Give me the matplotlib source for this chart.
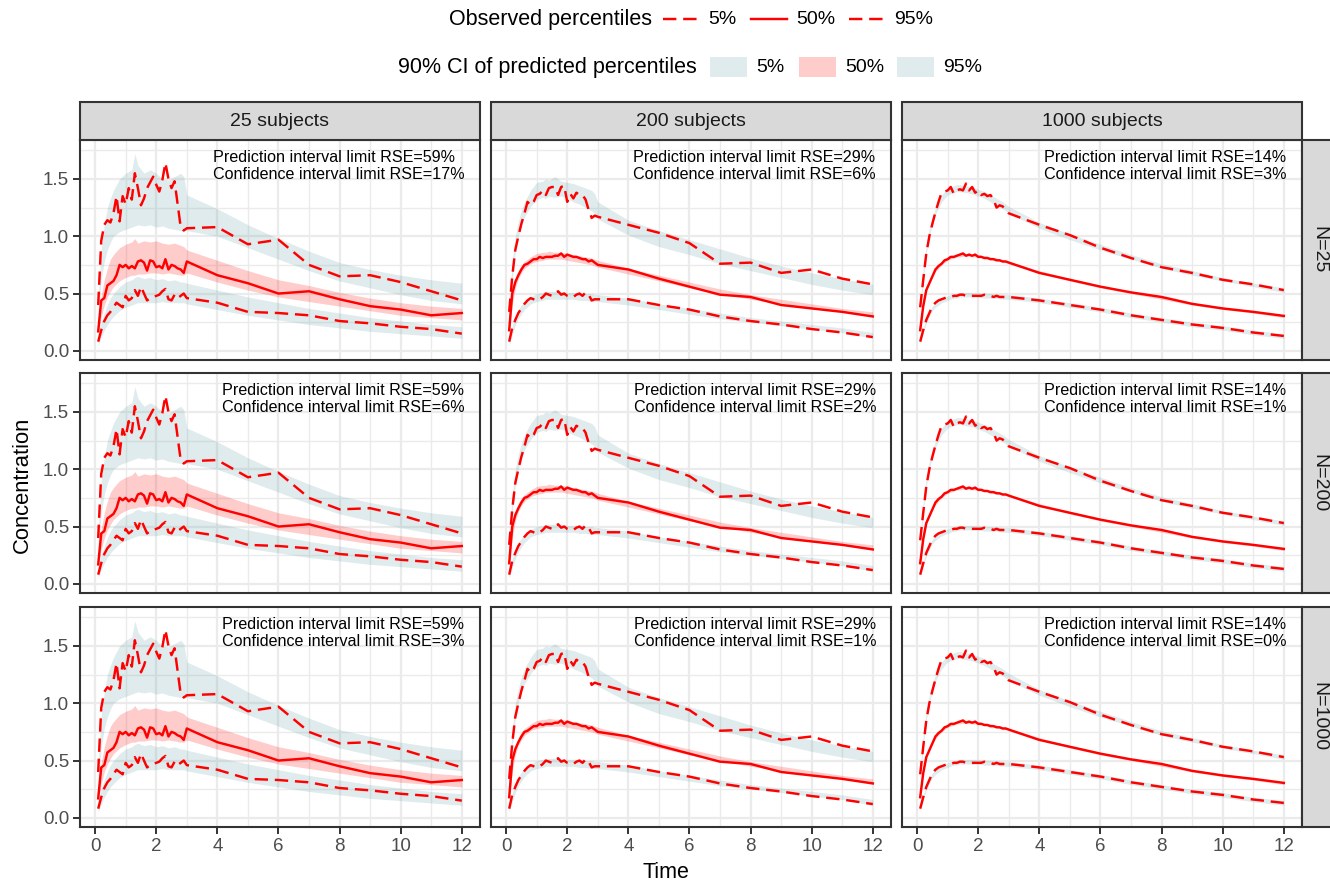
import matplotlib
matplotlib.use("Agg")
import matplotlib.pyplot as plt
from matplotlib.lines import Line2D
from matplotlib.patches import Rectangle

plt.rcParams['font.family'] = ['Liberation Sans', 'DejaVu Sans']

# ---------------- data ----------------
time_obs = [0.1, 0.2, 0.3, 0.4, 0.5, 0.6, 0.7, 0.8, 0.9, 1.0,
            1.1, 1.2, 1.3, 1.4, 1.5, 1.6, 1.7, 1.8, 1.9, 2.0,
            2.1, 2.2, 2.3, 2.4, 2.5, 2.6, 2.7, 2.8, 2.9, 3.0,
            4, 5, 6, 7, 8, 9, 10, 11, 12]

# observed percentiles, 25 subjects
obs25_p05 = [0.08, 0.18, 0.26, 0.31, 0.34, 0.38, 0.42, 0.40, 0.38, 0.48,
             0.44, 0.46, 0.53, 0.48, 0.56, 0.50, 0.44, 0.46, 0.47, 0.48,
             0.49, 0.52, 0.54, 0.45, 0.44, 0.49, 0.46, 0.48, 0.50, 0.46,
             0.42, 0.34, 0.33, 0.31, 0.26, 0.24, 0.21, 0.19, 0.15]
obs25_p50 = [0.17, 0.44, 0.46, 0.57, 0.59, 0.61, 0.66, 0.75, 0.73, 0.75,
             0.72, 0.74, 0.72, 0.78, 0.79, 0.77, 0.70, 0.79, 0.78, 0.73,
             0.74, 0.72, 0.80, 0.71, 0.75, 0.74, 0.72, 0.71, 0.68, 0.78,
             0.66, 0.59, 0.50, 0.52, 0.45, 0.39, 0.36, 0.31, 0.33]
obs25_p95 = [0.40, 0.96, 1.10, 1.14, 1.12, 1.20, 1.35, 1.13, 1.35, 1.28,
             1.42, 1.32, 1.55, 1.42, 1.27, 1.33, 1.42, 1.47, 1.52, 1.45,
             1.39, 1.49, 1.64, 1.50, 1.42, 1.48, 1.28, 1.08, 1.05, 1.07,
             1.08, 0.93, 0.97, 0.75, 0.65, 0.66, 0.60, 0.52, 0.44]

# observed percentiles, 200 subjects
obs200_p05 = [0.08, 0.20, 0.27, 0.33, 0.37, 0.41, 0.44, 0.46, 0.45, 0.44,
              0.45, 0.47, 0.50, 0.49, 0.48, 0.50, 0.52, 0.49, 0.50, 0.48,
              0.47, 0.47, 0.49, 0.50, 0.48, 0.51, 0.49, 0.44, 0.45, 0.45,
              0.45, 0.40, 0.36, 0.30, 0.26, 0.23, 0.19, 0.16, 0.12]
obs200_p50 = [0.18, 0.50, 0.60, 0.66, 0.71, 0.75, 0.76, 0.78, 0.80, 0.80,
              0.82, 0.81, 0.82, 0.82, 0.82, 0.83, 0.83, 0.85, 0.82, 0.84,
              0.83, 0.82, 0.82, 0.81, 0.80, 0.80, 0.78, 0.79, 0.77, 0.75,
              0.71, 0.63, 0.56, 0.49, 0.47, 0.40, 0.37, 0.34, 0.30]
obs200_p95 = [0.34, 0.65, 0.88, 1.00, 1.11, 1.20, 1.30, 1.27, 1.30, 1.36,
              1.37, 1.40, 1.36, 1.42, 1.43, 1.43, 1.36, 1.43, 1.44, 1.30,
              1.37, 1.33, 1.38, 1.36, 1.36, 1.32, 1.23, 1.16, 1.18, 1.17,
              1.10, 1.03, 0.94, 0.76, 0.77, 0.68, 0.71, 0.63, 0.58]

# observed percentiles, 1000 subjects
obs1000_p05 = [0.08, 0.18, 0.27, 0.33, 0.39, 0.42, 0.44, 0.45, 0.46, 0.47,
               0.47, 0.48, 0.48, 0.49, 0.49, 0.48, 0.48, 0.48, 0.48, 0.48,
               0.48, 0.49, 0.48, 0.48, 0.47, 0.48, 0.47, 0.47, 0.47, 0.47,
               0.44, 0.40, 0.36, 0.31, 0.27, 0.23, 0.20, 0.16, 0.13]
obs1000_p50 = [0.18, 0.39, 0.53, 0.59, 0.65, 0.71, 0.74, 0.76, 0.79, 0.80,
               0.82, 0.82, 0.83, 0.84, 0.85, 0.83, 0.84, 0.83, 0.84, 0.82,
               0.82, 0.81, 0.81, 0.80, 0.80, 0.79, 0.79, 0.78, 0.78, 0.77,
               0.68, 0.62, 0.56, 0.51, 0.47, 0.41, 0.37, 0.34, 0.305]
obs1000_p95 = [0.38, 0.62, 0.85, 1.00, 1.11, 1.21, 1.30, 1.38, 1.39, 1.40,
               1.43, 1.37, 1.40, 1.41, 1.40, 1.46, 1.40, 1.43, 1.38, 1.40,
               1.36, 1.37, 1.35, 1.36, 1.32, 1.25, 1.27, 1.26, 1.23, 1.20,
               1.10, 1.01, 0.90, 0.81, 0.73, 0.68, 0.62, 0.58, 0.53]

time_band = [0.1, 0.2, 0.3, 0.4, 0.5, 0.6, 0.8, 1.0, 1.2, 1.3, 1.4, 1.6, 1.8,
             2.0, 2.2, 2.4, 2.6, 2.8, 2.9, 3.0, 4, 5, 6, 7, 8, 9, 10, 11, 12]

# 90% CI of predicted percentiles, 25 subjects
ci25_p95_lo = [0.28, 0.62, 0.78, 0.88, 0.95, 1.00, 1.04, 1.06, 1.08, 1.09, 1.10, 1.09, 1.10,
               1.08, 1.09, 1.07, 1.06, 1.05, 1.05, 1.05, 1.00, 0.90, 0.80, 0.70, 0.61, 0.55, 0.49, 0.44, 0.41]
ci25_p95_hi = [0.45, 0.90, 1.10, 1.25, 1.33, 1.40, 1.50, 1.55, 1.58, 1.72, 1.62, 1.55, 1.58,
               1.55, 1.50, 1.49, 1.52, 1.55, 1.52, 1.36, 1.24, 1.10, 0.98, 0.87, 0.77, 0.71, 0.66, 0.62, 0.59]
ci25_p50_lo = [0.14, 0.30, 0.40, 0.47, 0.52, 0.56, 0.61, 0.64, 0.66, 0.66, 0.67, 0.67, 0.68,
               0.68, 0.67, 0.68, 0.67, 0.66, 0.66, 0.68, 0.60, 0.53, 0.47, 0.43, 0.39, 0.35, 0.31, 0.29, 0.27]
ci25_p50_hi = [0.24, 0.48, 0.62, 0.72, 0.80, 0.84, 0.90, 0.93, 0.95, 0.98, 0.94, 0.96, 0.95,
               0.96, 0.94, 0.93, 0.94, 0.92, 0.91, 0.88, 0.79, 0.70, 0.62, 0.57, 0.51, 0.46, 0.42, 0.39, 0.37]
ci25_p05_lo = [0.05, 0.12, 0.18, 0.23, 0.27, 0.30, 0.35, 0.38, 0.40, 0.41, 0.42, 0.42, 0.42,
               0.42, 0.43, 0.42, 0.42, 0.42, 0.42, 0.41, 0.36, 0.31, 0.27, 0.23, 0.20, 0.17, 0.15, 0.13, 0.11]
ci25_p05_hi = [0.14, 0.25, 0.33, 0.40, 0.46, 0.50, 0.56, 0.60, 0.62, 0.64, 0.65, 0.63, 0.64,
               0.62, 0.63, 0.61, 0.62, 0.60, 0.60, 0.59, 0.53, 0.47, 0.42, 0.37, 0.33, 0.29, 0.26, 0.23, 0.21]

# 90% CI of predicted percentiles, 200 subjects
ci200_p95_lo = [0.28, 0.62, 0.86, 1.00, 1.10, 1.17, 1.26, 1.32, 1.34, 1.33, 1.35, 1.34, 1.35,
                1.33, 1.30, 1.28, 1.25, 1.22, 1.20, 1.15, 1.01, 0.91, 0.84, 0.76, 0.70, 0.64, 0.58, 0.53, 0.49]
ci200_p95_hi = [0.40, 0.78, 1.00, 1.13, 1.23, 1.30, 1.40, 1.47, 1.48, 1.50, 1.49, 1.52, 1.48,
                1.47, 1.46, 1.44, 1.42, 1.40, 1.37, 1.30, 1.14, 1.05, 0.97, 0.89, 0.81, 0.74, 0.68, 0.63, 0.58]
ci200_p50_lo = [0.15, 0.40, 0.55, 0.63, 0.68, 0.72, 0.76, 0.78, 0.79, 0.80, 0.80, 0.80, 0.80,
                0.79, 0.78, 0.77, 0.76, 0.75, 0.74, 0.73, 0.67, 0.61, 0.55, 0.50, 0.45, 0.41, 0.37, 0.34, 0.30]
ci200_p50_hi = [0.21, 0.50, 0.63, 0.70, 0.75, 0.78, 0.82, 0.85, 0.86, 0.86, 0.87, 0.86, 0.86,
                0.85, 0.84, 0.83, 0.82, 0.81, 0.80, 0.79, 0.72, 0.66, 0.60, 0.54, 0.49, 0.45, 0.41, 0.37, 0.34]
ci200_p05_lo = [0.05, 0.14, 0.22, 0.28, 0.32, 0.36, 0.41, 0.43, 0.44, 0.45, 0.45, 0.45, 0.45,
                0.45, 0.45, 0.44, 0.44, 0.43, 0.43, 0.43, 0.40, 0.36, 0.32, 0.28, 0.25, 0.22, 0.19, 0.16, 0.11]
ci200_p05_hi = [0.10, 0.22, 0.30, 0.36, 0.40, 0.43, 0.47, 0.50, 0.51, 0.52, 0.52, 0.52, 0.52,
                0.51, 0.51, 0.51, 0.50, 0.50, 0.49, 0.49, 0.46, 0.41, 0.37, 0.33, 0.29, 0.26, 0.23, 0.20, 0.16]

# 90% CI of predicted percentiles, 1000 subjects
ci1000_p95_lo = [0.33, 0.63, 0.85, 1.00, 1.11, 1.19, 1.30, 1.36, 1.38, 1.39, 1.39, 1.38, 1.37,
                 1.35, 1.33, 1.30, 1.27, 1.24, 1.22, 1.20, 1.07, 0.97, 0.88, 0.80, 0.72, 0.66, 0.61, 0.56, 0.51]
ci1000_p95_hi = [0.40, 0.72, 0.93, 1.07, 1.17, 1.25, 1.36, 1.42, 1.44, 1.45, 1.45, 1.44, 1.43,
                 1.41, 1.39, 1.36, 1.33, 1.30, 1.28, 1.26, 1.12, 1.02, 0.93, 0.84, 0.76, 0.70, 0.64, 0.59, 0.55]
ci1000_p50_lo = [0.17, 0.39, 0.52, 0.59, 0.65, 0.69, 0.75, 0.79, 0.81, 0.82, 0.82, 0.83, 0.82,
                 0.82, 0.81, 0.80, 0.79, 0.77, 0.77, 0.76, 0.68, 0.61, 0.55, 0.50, 0.45, 0.40, 0.36, 0.33, 0.29]
ci1000_p50_hi = [0.19, 0.41, 0.54, 0.61, 0.67, 0.71, 0.77, 0.81, 0.83, 0.84, 0.84, 0.85, 0.84,
                 0.84, 0.83, 0.82, 0.81, 0.79, 0.79, 0.78, 0.70, 0.63, 0.57, 0.52, 0.47, 0.42, 0.38, 0.35, 0.31]
ci1000_p05_lo = [0.06, 0.16, 0.24, 0.30, 0.35, 0.38, 0.42, 0.44, 0.46, 0.46, 0.47, 0.47, 0.47,
                 0.47, 0.46, 0.46, 0.46, 0.45, 0.45, 0.45, 0.42, 0.38, 0.34, 0.29, 0.25, 0.21, 0.18, 0.14, 0.11]
ci1000_p05_hi = [0.10, 0.20, 0.28, 0.34, 0.39, 0.42, 0.46, 0.48, 0.50, 0.50, 0.51, 0.51, 0.51,
                 0.51, 0.50, 0.50, 0.50, 0.49, 0.49, 0.49, 0.46, 0.42, 0.38, 0.33, 0.29, 0.25, 0.22, 0.18, 0.15]

col_labels = ["25 subjects", "200 subjects", "1000 subjects"]
row_labels = ["N=25", "N=200", "N=1000"]
pi_rse = [59, 29, 14]                       # by column
ci_rse = [[17, 6, 3], [6, 2, 1], [3, 1, 0]]  # [row][column]

x_ticks = [0, 2, 4, 6, 8, 10, 12]
y_ticks = [0.0, 0.5, 1.0, 1.5]
y_ticklabels = ["0.0", "0.5", "1.0", "1.5"]

obs_sets = [(obs25_p05, obs25_p50, obs25_p95),
            (obs200_p05, obs200_p50, obs200_p95),
            (obs1000_p05, obs1000_p50, obs1000_p95)]
ci_sets = [((ci25_p05_lo, ci25_p05_hi), (ci25_p50_lo, ci25_p50_hi), (ci25_p95_lo, ci25_p95_hi)),
           ((ci200_p05_lo, ci200_p05_hi), (ci200_p50_lo, ci200_p50_hi), (ci200_p95_lo, ci200_p95_hi)),
           ((ci1000_p05_lo, ci1000_p05_hi), (ci1000_p50_lo, ci1000_p50_hi), (ci1000_p95_lo, ci1000_p95_hi))]

# ---------------- style ----------------
W, H = 1330, 881
DPI = 100
BLUE_BAND = (95/255, 158/255, 160/255, 0.2)
RED_BAND = (1.0, 0.0, 0.0, 0.2)
RED = "#FF0000"
GRID = "#EBEBEB"
BORDER = "#333333"
STRIP = "#D9D9D9"
DASH = (0, (5.5, 2.8))
LW = 1.75

fig = plt.figure(figsize=(W / DPI, H / DPI), dpi=DPI)

def fx(px):
    return px / W

def fy(py):
    return 1 - py / H

col_left = [80, 491, 902]
row_top = [140, 373, 607]
pw, ph = 400, 220

for r in range(3):
    for c in range(3):
        ax = fig.add_axes([fx(col_left[c]), fy(row_top[r] + ph), pw / W, ph / H])
        ax.set_xlim(-0.495, 12.595)
        ax.set_ylim(-0.08, 1.84)
        ax.set_facecolor("white")
        # grid
        for xv in range(0, 13):
            ax.axvline(xv, color=GRID, lw=1.6 if xv % 2 == 0 else 1.0, zorder=0)
        for yv in [0, 0.25, 0.5, 0.75, 1.0, 1.25, 1.5, 1.75]:
            ax.axhline(yv, color=GRID, lw=1.6 if (yv * 2) % 1 == 0 else 1.0, zorder=0)
        (b05, b50, b95) = ci_sets[c]
        ax.fill_between(time_band, b05[0], b05[1], color=BLUE_BAND, lw=0, zorder=1)
        ax.fill_between(time_band, b95[0], b95[1], color=BLUE_BAND, lw=0, zorder=1)
        ax.fill_between(time_band, b50[0], b50[1], color=RED_BAND, lw=0, zorder=1)
        p05, p50, p95 = obs_sets[c]
        ax.plot(time_obs, p05, color=RED, lw=LW, linestyle=DASH, zorder=3)
        ax.plot(time_obs, p95, color=RED, lw=LW, linestyle=DASH, zorder=3)
        ax.plot(time_obs, p50, color=RED, lw=LW, zorder=3)
        ax.text(0.9625, 0.955,
                f"Prediction interval limit RSE={pi_rse[c]}%\nConfidence interval limit RSE={ci_rse[r][c]}%",
                transform=ax.transAxes, ha="right", va="top", multialignment="left",
                fontsize=11.6, linespacing=1.17, color="black", zorder=5)
        for s in ax.spines.values():
            s.set_color(BORDER)
            s.set_linewidth(1.5)
        ax.set_xticks(x_ticks)
        ax.set_yticks(y_ticks)
        ax.tick_params(axis="both", length=4.8, width=1.4, color=BORDER,
                       labelcolor="#4D4D4D", labelsize=13.5, pad=3)
        if c == 0:
            ax.set_yticklabels(y_ticklabels)
        else:
            ax.tick_params(axis="y", length=0, labelleft=False)
        if r == 2:
            ax.set_xticklabels([str(v) for v in x_ticks])
        else:
            ax.tick_params(axis="x", length=0, labelbottom=False)

# top strips
for c in range(3):
    fig.patches.append(Rectangle((fx(col_left[c]), fy(140)), pw / W, 38 / H,
                                 transform=fig.transFigure, facecolor=STRIP,
                                 edgecolor=BORDER, lw=1.5, zorder=2))
    fig.text(fx(col_left[c] + pw / 2), fy(121), col_labels[c], ha="center", va="center",
             fontsize=14, color="#1A1A1A")
# right strips
for r in range(3):
    fig.patches.append(Rectangle((fx(1302), fy(row_top[r] + ph)), 38 / W, ph / H,
                                 transform=fig.transFigure, facecolor=STRIP,
                                 edgecolor=BORDER, lw=1.5, zorder=2))
    fig.text(fx(1319), fy(row_top[r] + ph / 2), row_labels[r], ha="center", va="center",
             rotation=-90, fontsize=14, color="#1A1A1A")

# axis titles
fig.text(fx(666), fy(872), "Time", ha="center", va="center", fontsize=15.5)
fig.text(fx(22), fy(485), "Concentration", ha="center", va="center", rotation=90, fontsize=15.8)

# legend row 1
fig.text(fx(652), fy(19), "Observed percentiles", ha="right", va="center", fontsize=15.5)
for x0, style, lab in [(663, DASH, "5%"), (751, "-", "50%"), (849, DASH, "95%")]:
    fig.add_artist(Line2D([fx(x0), fx(x0 + 36)], [fy(19), fy(19)], color=RED, lw=LW,
                          linestyle=style, transform=fig.transFigure))
    fig.text(fx(x0 + 45), fy(19), lab, ha="left", va="center", fontsize=14)
# legend row 2
fig.text(fx(697), fy(67), "90% CI of predicted percentiles", ha="right", va="center", fontsize=15.5)
for x0, colr, lab in [(710, BLUE_BAND, "5%"), (799, RED_BAND, "50%"), (897, BLUE_BAND, "95%")]:
    fig.patches.append(Rectangle((fx(x0), fy(77)), 37 / W, 20 / H, transform=fig.transFigure,
                                 facecolor=colr, edgecolor="none"))
    fig.text(fx(x0 + 46), fy(67), lab, ha="left", va="center", fontsize=14)

fig.savefig("out.png", dpi=DPI)
